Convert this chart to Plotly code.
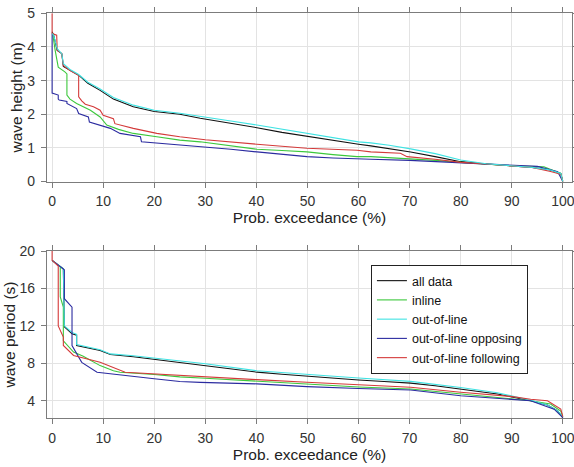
import plotly.graph_objects as go

# ---------------- data: wave height (m) vs probability of exceedance (%) ----------------
h_all_x = [0, 0.3, 1.0, 1.9, 2.2, 3.5, 5.2, 7, 9.4, 12, 15.9, 20, 25, 29, 35, 40.1, 45, 49.9, 55, 60, 62.4, 66, 70.2, 75, 80, 85, 89.8, 94, 97.6, 99.6, 100]
h_all_y = [4.45, 4.35, 3.9, 3.8, 3.42, 3.3, 3.16, 2.92, 2.71, 2.45, 2.22, 2.08, 2.0, 1.88, 1.74, 1.6, 1.46, 1.34, 1.22, 1.11, 1.06, 0.98, 0.88, 0.74, 0.59, 0.52, 0.47, 0.42, 0.34, 0.24, 0.0]

h_in_x = [0, 0.1, 0.6, 1.2, 2.5, 2.9, 2.9, 3.5, 4.8, 7.5, 9.4, 10.7, 13, 15.9, 20.5, 25, 29, 35, 40.1, 45, 49.9, 55, 59.7, 62.4, 70, 75, 80, 85, 89.8, 96.3, 99.6, 100]
h_in_y = [4.4, 4.4, 3.9, 3.4, 3.26, 3.2, 2.57, 2.45, 2.32, 2.12, 1.92, 1.68, 1.55, 1.43, 1.33, 1.23, 1.18, 1.05, 0.96, 0.92, 0.88, 0.8, 0.74, 0.74, 0.68, 0.63, 0.57, 0.52, 0.47, 0.44, 0.24, 0.0]

h_out_x = [0, 0.3, 1.0, 1.9, 2.2, 3.5, 5.2, 7, 9.4, 12, 15.9, 20, 25, 29, 35, 40.1, 45, 49.9, 55, 60, 62.4, 66, 70.2, 75, 80, 85, 89.8, 94, 97.6, 99.6, 100]
h_out_y = [4.4, 4.35, 3.95, 3.8, 3.5, 3.33, 3.18, 2.95, 2.75, 2.5, 2.27, 2.12, 2.03, 1.93, 1.8, 1.68, 1.56, 1.43, 1.3, 1.18, 1.15, 1.08, 0.97, 0.83, 0.64, 0.53, 0.47, 0.42, 0.34, 0.24, 0.0]

h_opp_x = [0, 0, 1.2, 1.2, 1.4, 2.9, 2.9, 4.8, 5.2, 7.1, 7.3, 9.4, 11.4, 13.3, 15.3, 17.3, 17.5, 20, 25.1, 29, 35, 40.1, 45, 49.9, 55, 59.7, 62.4, 70, 80, 89.8, 95, 99, 100]
h_opp_y = [4.4, 2.63, 2.57, 2.45, 2.42, 2.38, 2.32, 2.17, 2.02, 1.92, 1.77, 1.68, 1.58, 1.43, 1.38, 1.33, 1.18, 1.15, 1.08, 1.03, 0.96, 0.88, 0.81, 0.74, 0.7, 0.67, 0.66, 0.63, 0.56, 0.47, 0.45, 0.29, 0.0]

h_fol_x = [0, 0, 0.9, 1.0, 1.9, 2.2, 3.5, 5.2, 5.2, 5.8, 6.5, 8.1, 9.4, 10.0, 12.0, 12.3, 15.9, 20.5, 25, 30, 40.1, 49.9, 59.7, 62.4, 68.2, 69.5, 75, 80, 85, 89.8, 94, 97.6, 99.6, 100]
h_fol_y = [5.0, 4.4, 4.35, 3.9, 3.8, 3.45, 3.3, 3.16, 2.52, 2.4, 2.3, 2.22, 2.12, 1.97, 1.87, 1.72, 1.58, 1.43, 1.33, 1.24, 1.11, 0.99, 0.93, 0.88, 0.84, 0.74, 0.66, 0.57, 0.52, 0.47, 0.42, 0.3, 0.22, 0.0]

# ---------------- data: wave period (s) vs probability of exceedance (%) ----------------
t_all_x = [0, 2.2, 2.4, 3.9, 4.8, 4.8, 9.4, 11.4, 15.9, 20, 25, 29, 35, 40.1, 45, 49.9, 55, 60, 65, 70.2, 75, 80, 87.2, 93.7, 97, 99, 100]
t_all_y = [19.0, 18.1, 11.9, 11.15, 11.0, 9.9, 9.37, 8.94, 8.7, 8.42, 8.12, 7.8, 7.4, 7.05, 6.82, 6.6, 6.4, 6.22, 6.05, 5.88, 5.6, 5.27, 4.72, 4.0, 3.55, 2.9, 2.2]

t_in_x = [0, 1.6, 1.6, 2.2, 2.2, 4.2, 6.1, 9.4, 12, 13.3, 20, 25, 30, 40.1, 49.9, 60, 70.2, 80, 89.8, 93.7, 97.6, 99.6, 100]
t_in_y = [19.0, 18.3, 15.1, 14.0, 10.4, 9.2, 8.75, 7.75, 7.2, 7.04, 6.8, 6.55, 6.4, 6.07, 5.72, 5.47, 5.25, 4.72, 4.18, 4.0, 3.64, 2.9, 2.3]

t_out_x = [0, 2.2, 2.4, 3.9, 4.8, 4.8, 9.4, 11.4, 15.9, 20, 25, 30, 40.1, 49.9, 60, 70.2, 80, 87.2, 93.7, 97, 99, 100]
t_out_y = [19.0, 18.1, 12.0, 11.3, 11.1, 10.0, 9.45, 9.0, 8.8, 8.55, 8.3, 7.95, 7.2, 6.78, 6.42, 6.07, 5.42, 4.85, 4.05, 3.55, 2.9, 2.3]

t_opp_x = [0, 2.4, 2.4, 3.9, 3.9, 5.8, 8.8, 15, 20, 25, 29, 40.1, 49.9, 60, 70.2, 80, 89.8, 93.7, 98.3, 100]
t_opp_y = [19.0, 18.0, 14.9, 14.0, 9.9, 8.1, 7.04, 6.7, 6.35, 6.05, 5.96, 5.8, 5.5, 5.3, 5.14, 4.53, 4.18, 4.0, 3.1, 2.2]

t_fol_x = [0, 0, 1.2, 1.2, 2.2, 2.2, 4.2, 9.4, 14.3, 20, 25, 30, 40.1, 49.9, 60, 70.2, 80, 89.8, 93.7, 97, 99.6, 100]
t_fol_y = [20.0, 19.0, 18.4, 12.0, 10.8, 9.9, 8.84, 8.1, 7.04, 6.85, 6.68, 6.55, 6.25, 5.97, 5.7, 5.43, 4.9, 4.46, 4.15, 4.0, 3.1, 2.3]

series_names = ["all data", "inline", "out-of-line", "out-of-line opposing", "out-of-line following"]
series_colors = ["#111111", "#3cc83c", "#3fe3e3", "#2b2ba0", "#d43a3a"]

height_x = [h_all_x, h_in_x, h_out_x, h_opp_x, h_fol_x]
height_y = [h_all_y, h_in_y, h_out_y, h_opp_y, h_fol_y]
period_x = [t_all_x, t_in_x, t_out_x, t_opp_x, t_fol_x]
period_y = [t_all_y, t_in_y, t_out_y, t_opp_y, t_fol_y]

x_ticks = list(range(0, 101, 10))
h_ticks = [0, 1, 2, 3, 4, 5]
t_ticks = [4, 8, 12, 16, 20]

FONT = "Liberation Sans, Arial, sans-serif"
fig = go.Figure()

order = [0, 1, 3, 4, 2]
for i in order:
    fig.add_trace(go.Scatter(x=height_x[i], y=height_y[i], mode="lines",
                             line=dict(color=series_colors[i], width=1.1),
                             name=series_names[i], showlegend=False,
                             xaxis="x", yaxis="y"))
for i in range(5):
    fig.add_trace(go.Scatter(x=period_x[i], y=period_y[i], mode="lines",
                             line=dict(color=series_colors[i], width=1.1),
                             name=series_names[i], showlegend=True,
                             xaxis="x2", yaxis="y2"))

axis_common = dict(showline=True, linecolor="#7c7c7c", linewidth=1.2, mirror="ticks",
                   ticks="outside", ticklen=5, tickwidth=1, tickcolor="#7c7c7c",
                   showgrid=True, gridcolor="#e3e3e3", gridwidth=1, zeroline=False,
                   tickfont=dict(family=FONT, size=14, color="#333333"),
                   ticklabeloverflow="allow", automargin=False)
title_font = dict(family=FONT, size=15.5, color="#222222")

fig.update_layout(
    width=574, height=467,
    margin=dict(l=47, r=2, t=0, b=0),
    paper_bgcolor="white", plot_bgcolor="white",
    font=dict(family=FONT),
    xaxis=dict(domain=[0, 1], anchor="y", range=[-1, 101.8], tickvals=x_ticks, ticklabelstandoff=2,
               title=dict(text="Prob. exceedance (%)", font=title_font, standoff=0), **axis_common),
    yaxis=dict(domain=[0.6113, 0.9715], anchor="x", range=[0, 5], tickvals=h_ticks, ticklabelstandoff=3,
               title=dict(text="wave height (m)", font=title_font, standoff=0), **axis_common),
    xaxis2=dict(domain=[0, 1], anchor="y2", range=[-1, 101.8], tickvals=x_ticks, ticklabelstandoff=2,
                title=dict(text="Prob. exceedance (%)", font=title_font, standoff=0), **axis_common),
    yaxis2=dict(domain=[0.1049, 0.4625], anchor="x2", range=[2.15, 20], tickvals=t_ticks, ticklabelstandoff=3,
                title=dict(text="wave period (s)", font=title_font, standoff=0), **axis_common),
    legend=dict(x=0.617, y=0.4325, xanchor="left", yanchor="top",
                bgcolor="white", bordercolor="#222222", borderwidth=1,
                font=dict(family=FONT, size=12.5, color="#111111"),
                tracegroupgap=0, itemwidth=30),
)

fig.write_html("out.html", config={"displayModeBar": False},
               post_script="document.body.style.margin='0px';document.body.style.overflow='hidden';")
